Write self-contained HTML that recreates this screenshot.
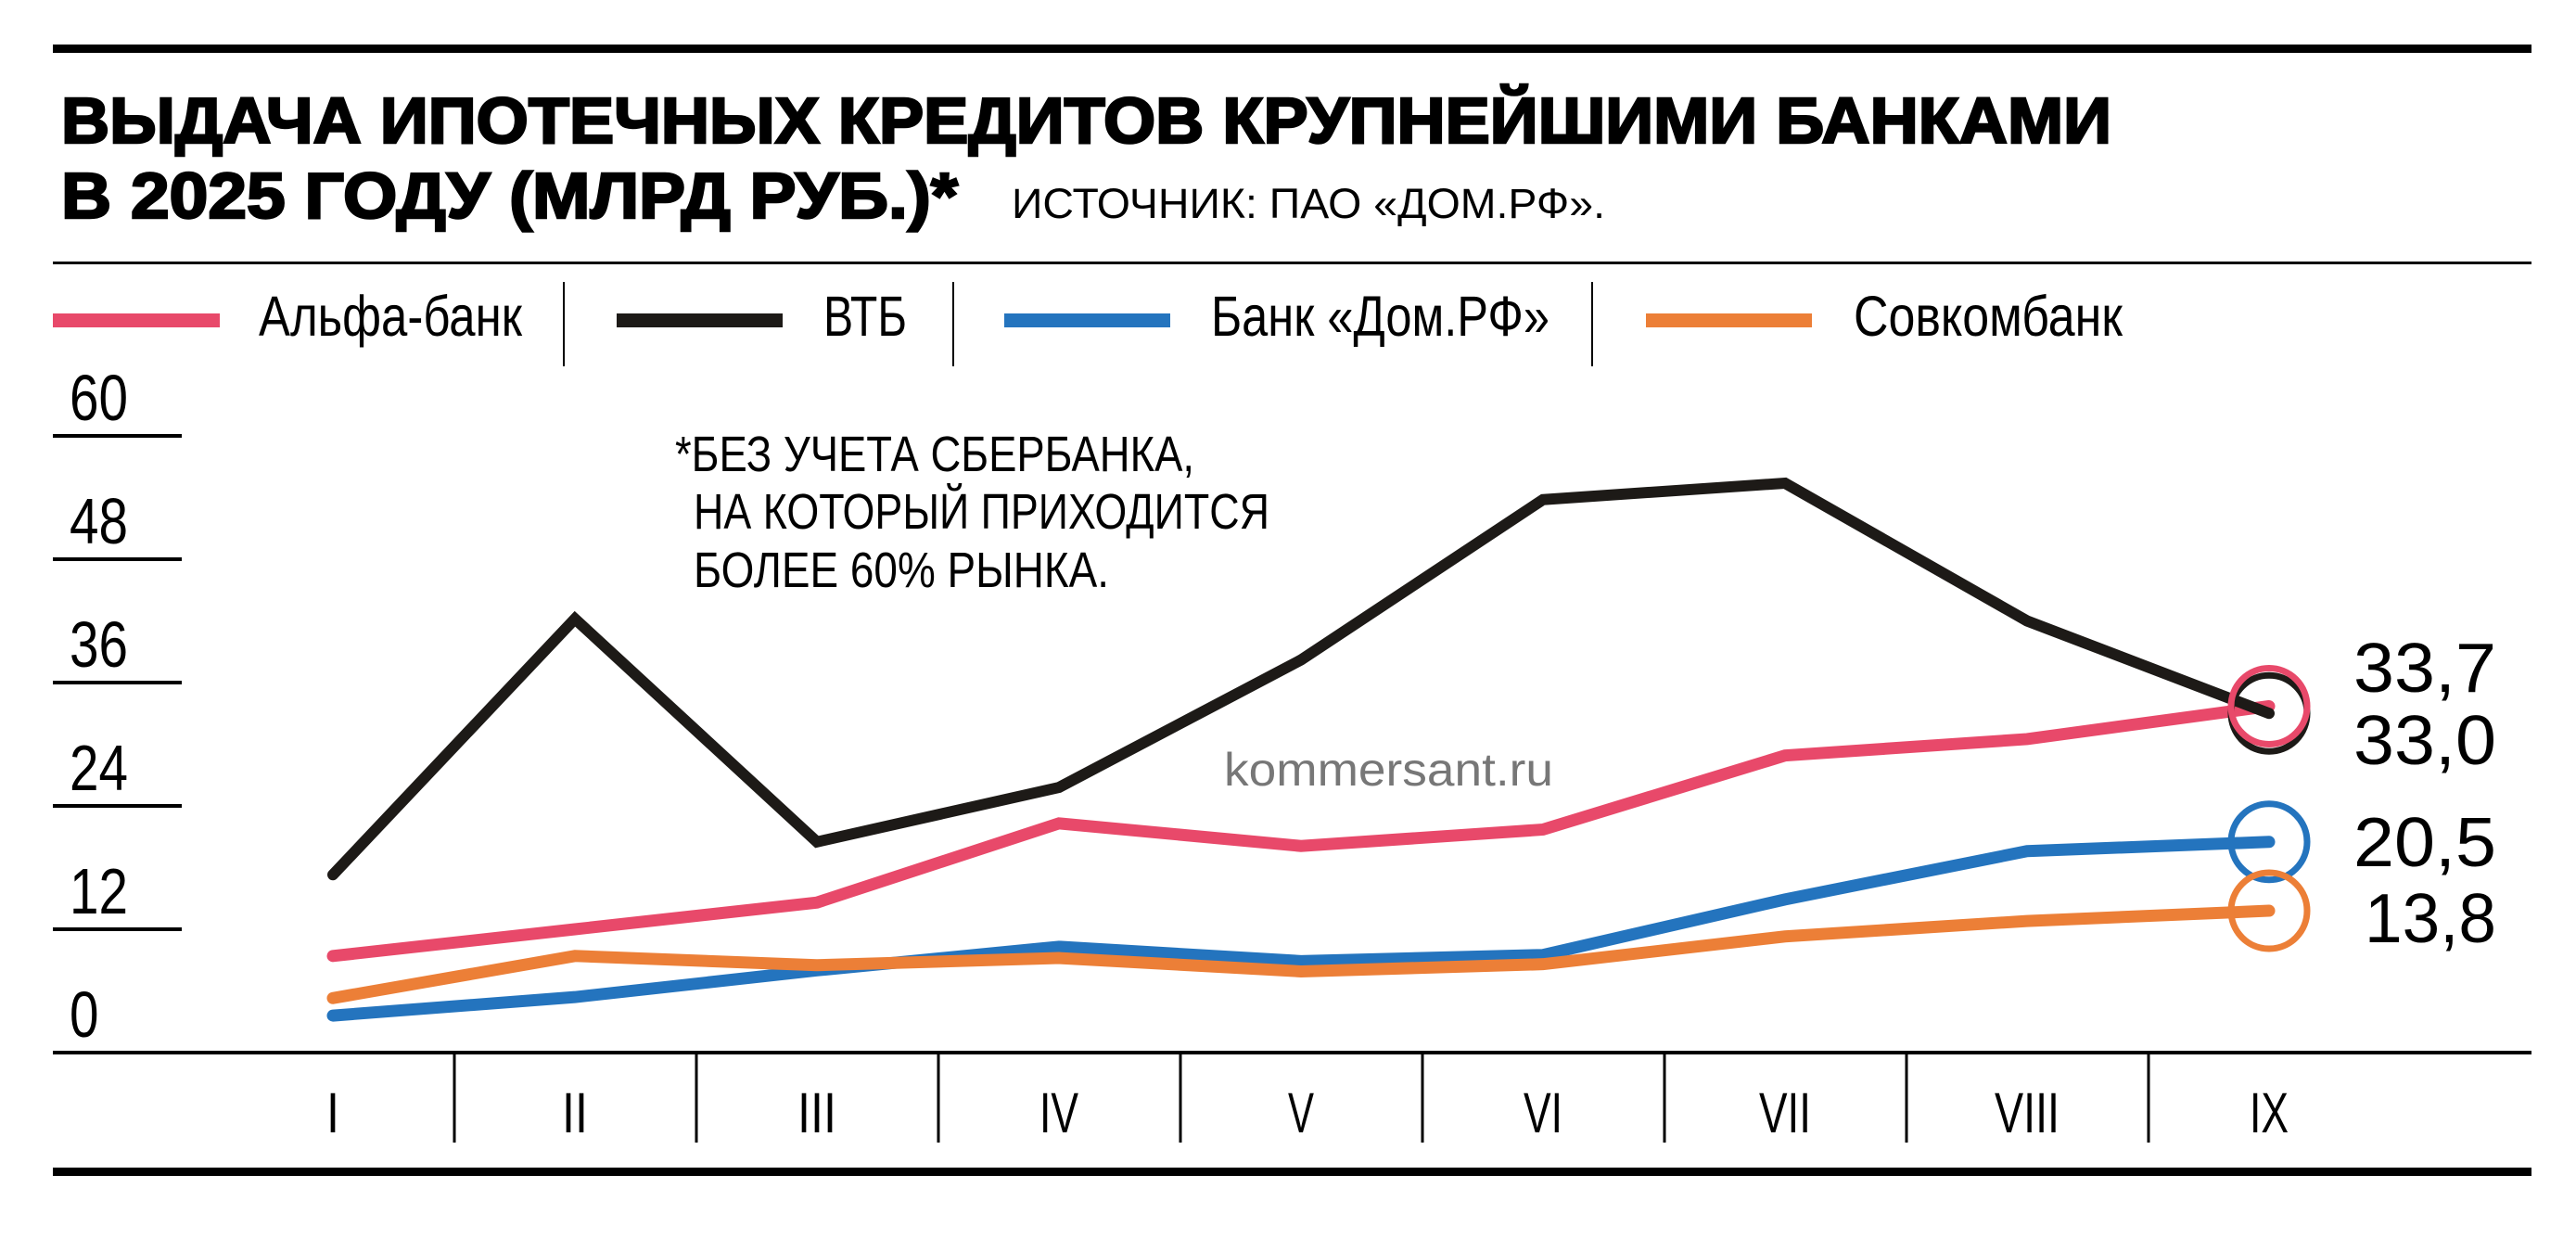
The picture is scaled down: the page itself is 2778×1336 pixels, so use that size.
<!DOCTYPE html>
<html><head><meta charset="utf-8"><style>
html,body{margin:0;padding:0;background:#fff;}
svg{display:block;}
text{font-family:"Liberation Sans Narrow","Liberation Sans",sans-serif;}
</style></head><body>
<svg id="chart" width="2778" height="1336" viewBox="0 0 2778 1336" xmlns="http://www.w3.org/2000/svg">
<rect x="57" y="48" width="2673" height="9" fill="#000"/>
<text x="66" y="154" font-size="70" font-weight="bold" stroke="#000" stroke-width="2.5" textLength="2211" lengthAdjust="spacingAndGlyphs" style="font-family:'Liberation Sans',sans-serif">ВЫДАЧА ИПОТЕЧНЫХ КРЕДИТОВ КРУПНЕЙШИМИ БАНКАМИ</text>
<text x="66" y="235" font-size="70" font-weight="bold" stroke="#000" stroke-width="2.5" textLength="967" lengthAdjust="spacingAndGlyphs" style="font-family:'Liberation Sans',sans-serif">В 2025 ГОДУ (МЛРД РУБ.)*</text>
<text x="1091" y="235" font-size="45" textLength="640" lengthAdjust="spacingAndGlyphs">ИСТОЧНИК: ПАО «ДОМ.РФ».</text>
<rect x="57" y="282" width="2673" height="3" fill="#000"/>
<g>
 <rect x="57" y="338" width="180" height="15" fill="#E8496A"/>
 <text x="279" y="362" font-size="61" textLength="284" lengthAdjust="spacingAndGlyphs">Альфа-банк</text>
 <rect x="607" y="304" width="2" height="91" fill="#000"/>
 <rect x="665" y="338" width="179" height="15" fill="#1d1a17"/>
 <text x="888" y="362" font-size="61" textLength="90" lengthAdjust="spacingAndGlyphs">ВТБ</text>
 <rect x="1027" y="304" width="2" height="91" fill="#000"/>
 <rect x="1083" y="338" width="179" height="15" fill="#2474BE"/>
 <text x="1306" y="362" font-size="61" textLength="365" lengthAdjust="spacingAndGlyphs">Банк «Дом.РФ»</text>
 <rect x="1716" y="304" width="2" height="91" fill="#000"/>
 <rect x="1775" y="338" width="179" height="15" fill="#EC7F37"/>
 <text x="1999" y="362" font-size="61" textLength="290" lengthAdjust="spacingAndGlyphs">Совкомбанк</text>
</g>
<g>
 <text x="728" y="508" font-size="54" textLength="560" lengthAdjust="spacingAndGlyphs">*БЕЗ УЧЕТА СБЕРБАНКА,</text>
 <text x="748" y="570" font-size="54" textLength="621" lengthAdjust="spacingAndGlyphs">НА КОТОРЫЙ ПРИХОДИТСЯ</text>
 <text x="748" y="633" font-size="54" textLength="448" lengthAdjust="spacingAndGlyphs">БОЛЕЕ 60% РЫНКА.</text>
</g>
<text x="1320" y="847" font-size="50" fill="#777" textLength="355" lengthAdjust="spacingAndGlyphs">kommersant.ru</text>
<g id="yaxis"></g>
<g id="xaxis"></g>
<g id="series"></g>
<rect x="57" y="1259" width="2673" height="9" fill="#000"/>
</svg>
<script>
const months = ["I","II","III","IV","V","VI","VII","VIII","IX"];
const yTicks = [0,12,24,36,48,60];
const alfa = [9.4,12.0,14.6,22.3,20.1,21.7,28.9,30.5,33.7];
const vtb = [17.3,42.2,20.5,25.8,38.2,53.8,55.4,42.0,33.0];
const domrf = [3.6,5.4,8.0,10.3,8.9,9.5,14.9,19.6,20.5];
const sovcom = [5.3,9.4,8.5,9.2,7.9,8.6,11.3,12.8,13.8];
const lastLabels = ["33,7","33,0","20,5","13,8"];

const NS = "http://www.w3.org/2000/svg";
const x = i => 359 + i * 261;
const y = v => 1135 - v * 133 / 12;
function mk(tag, attrs, parent) {
  const e = document.createElementNS(NS, tag);
  for (const k in attrs) e.setAttribute(k, attrs[k]);
  parent.appendChild(e);
  return e;
}
const ya = document.getElementById('yaxis');
yTicks.forEach(t => {
  if (t > 0) {
    const l = mk('rect', {x: 57, y: y(t) - 2, width: 139, height: 4, fill: '#000'}, ya);
    
    
  }
  const tx = mk('text', {x: 75, y: y(t) - 17, 'font-size': 70, textLength: String(t).length * 31.5, lengthAdjust: 'spacingAndGlyphs'}, ya);
  tx.textContent = t;
  
  
});
const xa = document.getElementById('xaxis');
const ax = mk('rect', {x: 57, y: 1133, width: 2673, height: 4, fill: '#000'}, xa);


months.forEach((m, i) => {
  if (i > 0) {
    const s = mk('rect', {x: x(i) - 131.5, y: 1135, width: 3, height: 97, fill: '#000'}, xa);
    
    
  }
  const t = mk('text', {x: x(i), y: 1221, 'font-size': 61, 'text-anchor': 'middle', textLength: m.length * 14 + (m.includes('V') || m.includes('X') ? 14 : 0), lengthAdjust: 'spacingAndGlyphs'}, xa);
  t.textContent = m;
  
  
});
const sg = document.getElementById('series');
const series = [
  {name: 'domrf', data: domrf, color: '#2474BE', w: 13},
  {name: 'sovcom', data: sovcom, color: '#EC7F37', w: 13},
  {name: 'alfa', data: alfa, color: '#E8496A', w: 13},
  {name: 'vtb', data: vtb, color: '#1d1a17', w: 12}
];
series.forEach(s => {
  const pts = s.data.map((v, i) => x(i) + ',' + y(v)).join(' ');
  const p = mk('polyline', {points: pts, fill: 'none', stroke: s.color, 'stroke-width': s.w, 'stroke-linejoin': 'miter', 'stroke-linecap': 'round'}, sg);
  
  
});
const last = months.length - 1;
const circles = [
  {name: 'vtb', data: vtb, color: '#1d1a17'},
  {name: 'alfa', data: alfa, color: '#E8496A'},
  {name: 'domrf', data: domrf, color: '#2474BE'},
  {name: 'sovcom', data: sovcom, color: '#EC7F37'}
];
circles.forEach(c => {
  const e = mk('circle', {cx: x(last), cy: y(c.data[last]), r: 41, fill: 'none', stroke: c.color, 'stroke-width': 7}, sg);
  
  
});
const labelY = [746, 824, 934, 1016];
lastLabels.forEach((l, i) => {
  const t = mk('text', {x: 2692, y: labelY[i], 'font-size': 75, 'text-anchor': 'end', textLength: l.startsWith('1') ? 142 : 154, lengthAdjust: 'spacingAndGlyphs'}, sg);
  t.textContent = l;
  
  
});
</script>
</body></html>
